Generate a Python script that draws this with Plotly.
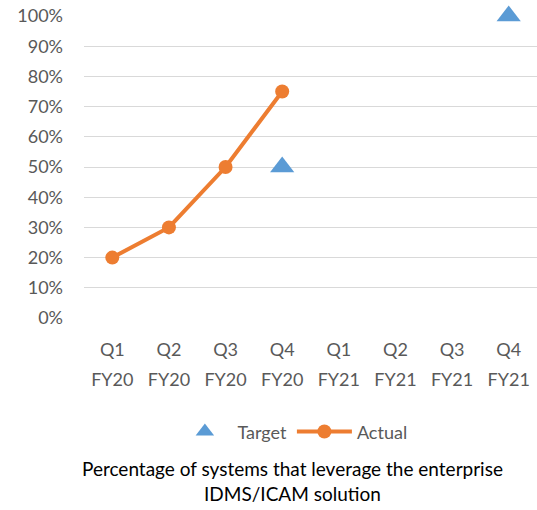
import plotly.graph_objects as go

quarters = ["Q1", "Q2", "Q3", "Q4", "Q1", "Q2", "Q3", "Q4"]
years = ["FY20", "FY20", "FY20", "FY20", "FY21", "FY21", "FY21", "FY21"]
categories = [f"{q} {y}" for q, y in zip(quarters, years)]
target_cats = ["Q4 FY20", "Q4 FY21"]
target_vals = [0.50, 1.00]
actual_cats = ["Q1 FY20", "Q2 FY20", "Q3 FY20", "Q4 FY20"]
actual_vals = [0.20, 0.30, 0.50, 0.75]
y_ticks = [i / 10 for i in range(11)]

FONT = "Lato"
GREY = "#595959"

fig = go.Figure()
fig.add_trace(go.Scatter(
    x=target_cats, y=target_vals, mode="markers", name="Target",
    marker=dict(symbol="triangle-up", size=21, color="#5B9BD5"),
    cliponaxis=False,
))
fig.add_trace(go.Scatter(
    x=actual_cats, y=actual_vals, mode="lines+markers", name="Actual",
    line=dict(color="#ED7D31", width=4),
    marker=dict(symbol="circle", size=14, color="#ED7D31"),
    cliponaxis=False,
))
# invisible trace to activate second x-axis for the year labels
fig.add_trace(go.Scatter(x=categories, y=[None] * len(categories), xaxis="x2",
                         showlegend=False, hoverinfo="skip"))

fig.update_layout(
    width=537, height=510,
    margin=dict(l=84, r=0, t=16, b=192),
    paper_bgcolor="white", plot_bgcolor="white",
    font=dict(family=FONT, size=18, color=GREY),
    xaxis=dict(
        type="category", categoryorder="array", categoryarray=categories,
        range=[-0.5, 7.5], tickmode="array", tickvals=categories, ticktext=quarters,
        showgrid=False, zeroline=False, showline=False, ticks="",
        ticklabelstandoff=19,
    ),
    xaxis2=dict(
        type="category", categoryorder="array", categoryarray=categories,
        overlaying="x", anchor="y", side="bottom", matches="x",
        tickmode="array", tickvals=categories, ticktext=years,
        showgrid=False, zeroline=False, showline=False, ticks="",
        ticklabelstandoff=49,
    ),
    yaxis=dict(
        range=[0, 1.0], tickmode="array", tickvals=y_ticks, tickformat=".0%",
        showgrid=True, gridcolor="#D9D9D9", gridwidth=1.3,
        zeroline=False, showline=False, ticks="", ticklabelstandoff=20,
    ),
    legend=dict(
        orientation="h", x=0.46, xanchor="center", y=-0.377, yanchor="middle",
        font=dict(family=FONT, size=18, color=GREY), itemwidth=55,
    ),
    annotations=[dict(
        text="Percentage of systems that leverage the enterprise<br>IDMS/ICAM solution",
        xref="paper", yref="paper", x=0.46, y=-0.455, xanchor="center", yanchor="top",
        showarrow=False, font=dict(family=FONT, size=19, color="black"),
    )],
)

fig.write_html("out.html")
